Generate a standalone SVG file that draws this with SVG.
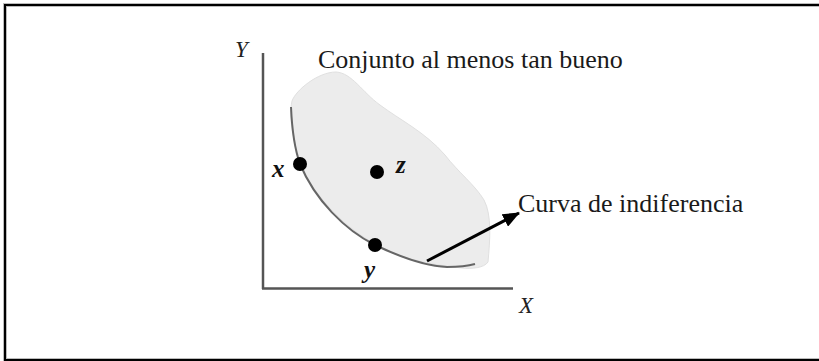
<svg xmlns="http://www.w3.org/2000/svg" width="819" height="361" viewBox="0 0 819 361">
<style>
.lbl{font-family:"Liberation Serif","Times New Roman",serif;fill:#1a1a1a}
.var{font-family:"Liberation Serif","Times New Roman",serif;font-style:italic;font-weight:bold;fill:#111}
.ax{font-family:"Liberation Serif","Times New Roman",serif;font-style:italic;fill:#222}
.dot{fill:#000}
</style>
<defs>
<marker id="ah" markerWidth="17" markerHeight="14" refX="16" refY="7" orient="auto" markerUnits="userSpaceOnUse" viewBox="0 0 17 14">
<path d="M0,0 L17,7 L0,14 Z" fill="#000"/>
</marker>
</defs>
<rect width="819" height="361" fill="#fff"/>
<rect x="5" y="5" width="830" height="355" fill="none" stroke="#bbb" stroke-width="4"/>
<rect x="5" y="5" width="830" height="355" fill="none" stroke="#000" stroke-width="2"/>
<g id="set">
<path d="M292,101 C296,90 318,72 336,72 C352,73 362,92 380,105 C400,120 425,132 445,155 C458,172 475,185 484,200 C492,215 490,240 488,262 C484,268 472,269 462,268 C440,266 420,262 400,256 C360,240 330,215 305,175 C295,150 288,120 292,101 Z" fill="#ececec" stroke="#e0e0e0" stroke-width="1"/>
<text class="lbl" x="318" y="68" font-size="26">Conjunto al menos tan bueno</text>
</g>
<g id="axes">
<line x1="263" y1="53" x2="263" y2="289" stroke="#555" stroke-width="2.5"/>
<line x1="262" y1="288.5" x2="513" y2="288.5" stroke="#555" stroke-width="2.5"/>
<text class="ax" x="235" y="57" font-size="23">Y</text>
<text class="ax" x="519" y="313" font-size="23">X</text>
</g>
<g id="curve">
<path d="M291,107 C292,130 295,150 300,164 C315,200 345,230 375,245 C400,257 425,266 447,267 C460,267 468,266 475,264" fill="none" stroke="#666" stroke-width="2"/>
<text class="lbl" x="518" y="212" font-size="26">Curva de indiferencia</text>
</g>
<g id="node-x">
<circle class="dot" cx="300" cy="164" r="7"/>
<text class="var" x="272" y="177" font-size="25">x</text>
</g>
<g id="node-z">
<circle class="dot" cx="377" cy="172" r="7"/>
<text class="var" x="396" y="173" font-size="25">z</text>
</g>
<g id="node-y">
<circle class="dot" cx="375" cy="245" r="7"/>
<text class="var" x="364" y="278" font-size="25">y</text>
</g>
<g id="connectors">
<line x1="427" y1="261" x2="519" y2="213" stroke="#000" stroke-width="3" marker-end="url(#ah)"/>
</g>
</svg>
